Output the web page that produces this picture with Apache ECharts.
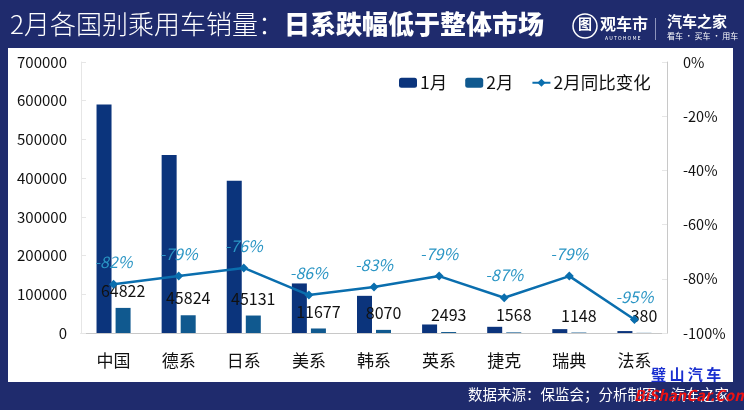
<!DOCTYPE html>
<html>
<head>
<meta charset="utf-8">
<title>2月各国别乘用车销量</title>
<script src="https://cdn.jsdelivr.net/npm/echarts@6/dist/echarts.min.js"></script>
<style>
html, body { margin: 0; padding: 0; background: #1f2b6d; }
#main { width: 744px; height: 410px; }
</style>
</head>
<body>
<div id="main"></div>
<script>
var categories = ['中国', '德系', '日系', '美系', '韩系', '英系', '捷克', '瑞典', '法系'];
var janSales = [590000, 460000, 393000, 128000, 96000, 22000, 16000, 10000, 5000];
var febSales = [64822, 45824, 45131, 11677, 8070, 2493, 1568, 1148, 380];
var febChange = [-82, -79, -76, -86, -83, -79, -87, -79, -95];

var font = '"Noto Sans CJK SC", "Noto Sans", sans-serif';
var chart = echarts.init(document.getElementById('main'));

chart.setOption({
    backgroundColor: '#1f2b6d',
    animation: false,
    textStyle: { fontFamily: font },
    title: {
        left: 10,
        top: 11,
        padding: 0,
        text: '{a|2月各国别乘用车销量：}{b|日系跌幅低于整体市场}',
        textStyle: {
            rich: {
                a: { color: '#fff', fontSize: 26, fontFamily: font, fontWeight: 300 },
                b: { color: '#fff', fontSize: 26, fontFamily: font, fontWeight: 900 }
            }
        }
    },
    graphic: [
        // 面板
        { type: 'rect', z: -1, shape: { x: 8, y: 48, width: 725, height: 334 }, style: { fill: '#fff' } },
        // logo
        { type: 'circle', shape: { cx: 585, cy: 26, r: 12 }, style: { fill: 'none', stroke: '#fff', lineWidth: 1.5 } },
        { type: 'text', x: 578, y: 17, style: { text: '图', fill: '#fff', font: 'bold 14px ' + font } },
        { type: 'text', x: 600, y: 16, style: { text: '观车市', fill: '#fff', font: 'bold 16px ' + font } },
        { type: 'text', x: 605, y: 36, style: { text: 'A U T O H O M E', fill: '#fff', font: '5px ' + font } },
        { type: 'rect', shape: { x: 655, y: 18, width: 1, height: 22 }, style: { fill: '#8d94bd' } },
        { type: 'text', x: 667, y: 14, style: { text: '汽车之家', fill: '#fff', font: 'bold 15px ' + font } },
        { type: 'text', x: 667, y: 32, style: { text: '看车 · 买车 · 用车', fill: '#fff', font: '8px ' + font } },
        // 来源
        { type: 'text', x: 468, y: 387, style: { text: '数据来源：保监会；分析制图：汽车之家', fill: '#fff', font: '14.5px ' + font } },
        // 水印
        { type: 'text', x: 651, y: 367, z: 10, style: { text: '璧 山 汽 车', fill: '#1a2fd0', font: 'bold 15px ' + font } },
        { type: 'text', x: 634, y: 388, z: 10, style: { text: 'BiShanCar.Com', fill: '#ee1111', font: 'italic bold 15px ' + font } }
    ],
    legend: {
        left: 394,
        top: 69,
        itemWidth: 18,
        itemHeight: 10,
        itemGap: 18,
        textStyle: { fontSize: 17.5, color: '#111', padding: [0, 0, 0, -2] },
        data: ['1月', '2月', '2月同比变化']
    },
    grid: { left: 81, right: 77, top: 62, bottom: 77 },
    xAxis: {
        type: 'category',
        data: categories,
        axisTick: { show: false },
        axisLine: { lineStyle: { color: '#c8c8c8' } },
        axisLabel: { color: '#111', fontSize: 17, margin: 19 }
    },
    yAxis: [
        {
            type: 'value',
            min: 0,
            max: 700000,
            interval: 100000,
            splitLine: { show: false },
            axisLine: { show: true, lineStyle: { color: '#e6e6e6' } },
            axisTick: { show: true, length: 5, inside: true, lineStyle: { color: '#e6e6e6' } },
            axisLabel: {
                color: '#111',
                fontSize: 15,
                margin: 14,
                formatter: function (v) { return String(v); }
            }
        },
        {
            type: 'value',
            min: -100,
            max: 0,
            interval: 20,
            splitLine: { show: false },
            axisLine: { show: true, lineStyle: { color: '#c8c8c8' } },
            axisTick: { show: true, length: 5, inside: true, lineStyle: { color: '#e6e6e6' } },
            axisLabel: { color: '#111', fontSize: 14.5, margin: 16, formatter: '{value}%' }
        }
    ],
    series: [
        {
            name: '1月',
            type: 'bar',
            barWidth: 15,
            barGap: '27%',
            itemStyle: { color: '#0b347c' },
            data: janSales
        },
        {
            name: '2月',
            type: 'bar',
            barWidth: 15,
            itemStyle: { color: '#10598f' },
            label: { show: true, position: 'top', distance: 9, color: '#111', fontSize: 16 },
            data: febSales
        },
        {
            name: '2月同比变化',
            type: 'line',
            yAxisIndex: 1,
            symbol: 'diamond',
            symbolSize: 9,
            z: 5,
            itemStyle: { color: '#0a6eae' },
            lineStyle: { color: '#0a6eae', width: 2.5 },
            label: {
                show: true,
                position: 'top',
                distance: 10,
                color: '#2a95c4',
                fontSize: 16,
                fontStyle: 'italic',
                formatter: '{c}%'
            },
            data: febChange
        }
    ]
});
</script>
</body>
</html>
